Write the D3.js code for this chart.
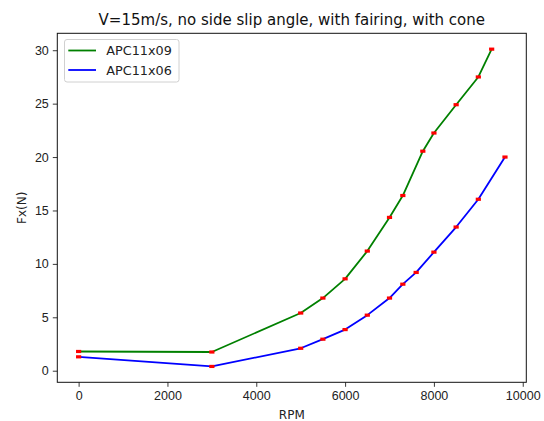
<!DOCTYPE html>
<html>
<head>
<meta charset="utf-8">
<script src="https://cdn.jsdelivr.net/npm/d3@7"></script>
<style>
  html, body { margin: 0; padding: 0; background: #fff; }
  svg { display: block; font-family: "DejaVu Sans", sans-serif; }
</style>
</head>
<body>
<svg id="chart" width="544" height="421"></svg>
<script>
// Thrust Fx (N) against propeller speed, V = 15 m/s
const title = "V=15m/s, no side slip angle, with fairing, with cone";
const xLabel = "RPM";
const yLabel = "Fx(N)";

const seriesNames = ["APC11x09", "APC11x06"];
const seriesColors = ["#008000", "#0000ff"];

const rpm09 = [0, 3000, 5000, 5500, 6000, 6500, 7000, 7300, 7750, 8000, 8500, 9000, 9300];
const fx09  = [1.8, 1.75, 5.4, 6.8, 8.6, 11.2, 14.35, 16.4, 20.55, 22.25, 24.9, 27.5, 30.1];

const rpm06 = [0, 3000, 5000, 5500, 6000, 6500, 7000, 7300, 7600, 8000, 8500, 9000, 9600];
const fx06  = [1.3, 0.4, 2.1, 2.95, 3.85, 5.2, 6.8, 8.1, 9.2, 11.1, 13.45, 16.05, 20.0];

const xTicks = [0, 2000, 4000, 6000, 8000, 10000];
const yTicks = [0, 5, 10, 15, 20, 25, 30];

const series = [
  { name: seriesNames[0], color: seriesColors[0], pts: rpm09.map((x, i) => ({ x, y: fx09[i] })) },
  { name: seriesNames[1], color: seriesColors[1], pts: rpm06.map((x, i) => ({ x, y: fx06[i] })) }
];

const svg = d3.select("#chart");
const m = { left: 57.3, right: 544 - 526.3, top: 33.3, bottom: 421 - 382.3 };
const W = 544 - m.left - m.right;
const H = 421 - m.top - m.bottom;

// domains padded by 5% of the data span on each side
const allX = series.flatMap(s => s.pts.map(p => p.x));
const allY = series.flatMap(s => s.pts.map(p => p.y));
const pad = (lo, hi) => { const d = (hi - lo) * 0.05; return [lo - d, hi + d]; };
const x = d3.scaleLinear().domain(pad(d3.min(allX), d3.max(allX))).range([0, W]);
const y = d3.scaleLinear().domain(pad(d3.min(allY), d3.max(allY))).range([H, 0]);

const g = svg.append("g").attr("transform", `translate(${m.left},${m.top})`);

// axes
const xAxis = g.append("g").attr("transform", `translate(0,${H})`)
  .call(d3.axisBottom(x).tickValues(xTicks).tickFormat(d3.format("d")).tickSize(4.5).tickPadding(4));
const yAxis = g.append("g")
  .call(d3.axisLeft(y).tickValues(yTicks).tickFormat(d3.format("d")).tickSize(4.5).tickPadding(4));
[xAxis, yAxis].forEach(a => {
  a.select(".domain").remove();
  a.selectAll(".tick line").attr("stroke", "#222").attr("stroke-width", 0.9);
  a.selectAll(".tick text").attr("fill", "#222").style("font-size", "12.5px");
});

// frame
g.append("rect").attr("x", 0).attr("y", 0).attr("width", W).attr("height", H)
  .attr("fill", "none").attr("stroke", "#111").attr("stroke-width", 1);

// lines
const line = d3.line().x(p => x(p.x)).y(p => y(p.y));
series.forEach(s => {
  g.append("path").datum(s.pts).attr("d", line)
    .attr("fill", "none").attr("stroke", s.color).attr("stroke-width", 1.8)
    .attr("stroke-linejoin", "round");
});
// measured points
series.forEach(s => {
  g.selectAll(null).data(s.pts).enter().append("rect")
    .attr("x", p => x(p.x) - 2.6).attr("y", p => y(p.y) - 1.6)
    .attr("width", 5.2).attr("height", 3.2).attr("fill", "#ff0000");
});

// title and axis labels
svg.append("text").attr("x", m.left + W / 2).attr("y", 24.5)
  .attr("text-anchor", "middle").style("font-size", "15px").attr("fill", "#111").text(title);
svg.append("text").attr("x", m.left + W / 2).attr("y", 418.5)
  .attr("text-anchor", "middle").style("font-size", "12px").attr("fill", "#222").text(xLabel);
svg.append("text").attr("transform", `translate(25.5,${m.top + H / 2}) rotate(-90)`)
  .attr("text-anchor", "middle").style("font-size", "12px").attr("fill", "#222").text(yLabel);

// legend
const lg = svg.append("g").attr("transform", "translate(64.5,39.5)");
lg.append("rect").attr("width", 114.5).attr("height", 42.5).attr("rx", 2.5)
  .attr("fill", "#fff").attr("fill-opacity", 0.8).attr("stroke", "#d0d0d0").attr("stroke-width", 1);
series.forEach((s, i) => {
  const cy = 11 + i * 19.5;
  lg.append("line").attr("x1", 3.8).attr("x2", 31.5).attr("y1", cy).attr("y2", cy)
    .attr("stroke", s.color).attr("stroke-width", 1.8);
  lg.append("text").attr("x", 41.8).attr("y", cy + 4.6).style("font-size", "12.8px")
    .attr("fill", "#222").text(s.name);
});
</script>
</body>
</html>
